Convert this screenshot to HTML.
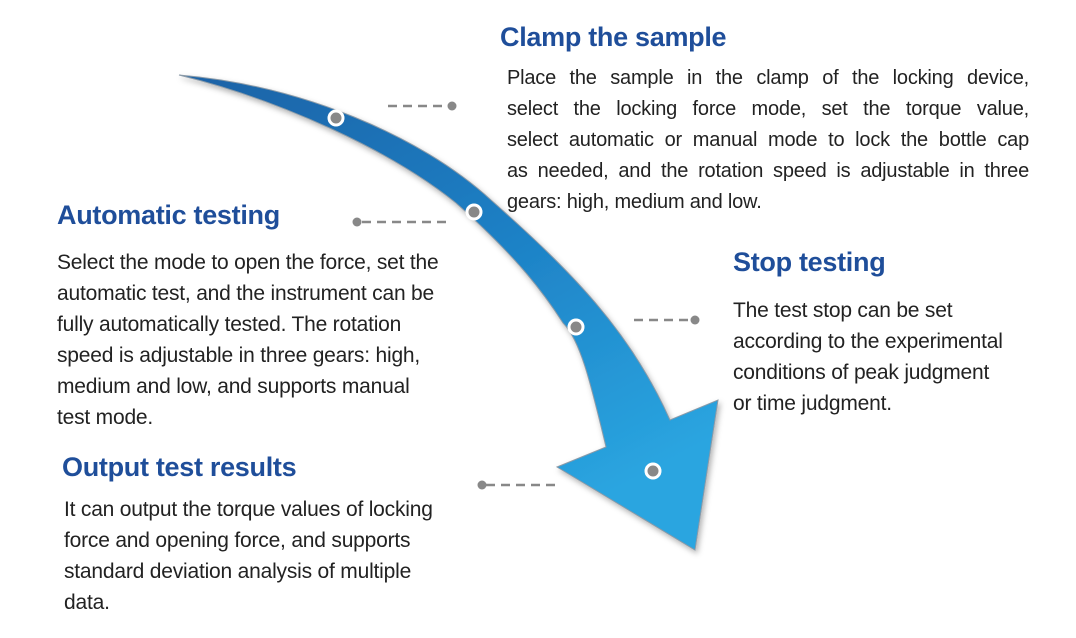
<!DOCTYPE html>
<html><head><meta charset="utf-8"><style>
body{margin:0;width:1076px;height:638px;background:#fff;position:relative;overflow:hidden;font-family:"Liberation Sans",sans-serif;}
.h{position:absolute;color:#1f4e9a;font-weight:bold;font-size:27px;white-space:nowrap;line-height:30px;letter-spacing:-0.3px}
.t{position:absolute;color:#222;font-size:21px;line-height:31px;white-space:nowrap;letter-spacing:-0.2px}
.j{font-size:20px}
.j div{text-align:justify;text-align-last:justify}
.j div.l{text-align-last:left}
</style></head><body>
<svg width="1076" height="638" style="position:absolute;left:0;top:0">
<defs>
<linearGradient id="g" x1="0" y1="0" x2="0.6" y2="1">
<stop offset="0" stop-color="#1a62a6"/><stop offset="0.5" stop-color="#1d7fc4"/><stop offset="1" stop-color="#2aa5e0"/>
</linearGradient>
<filter id="s" x="-10%" y="-10%" width="130%" height="130%"><feDropShadow dx="2" dy="3" stdDeviation="3" flood-color="#000" flood-opacity="0.3"/></filter>
</defs>
<path d="M179,75 C300,85 420,135 491,200 C570,270 630,330 670,420 L718,400 L695,550 L557,467 L606,447 C590,380 580,340 563,323 C545,295 520,260 456,203 C390,150 280,100 179,75 Z" fill="url(#g)" stroke="#8a9aa8" stroke-width="1" filter="url(#s)"/>
<g fill="#888" stroke="#fff" stroke-width="3">
<circle cx="336" cy="118" r="7"/><circle cx="474" cy="212" r="7"/><circle cx="576" cy="327" r="7"/><circle cx="653" cy="471" r="7"/>
</g>
<g stroke="#888" stroke-width="2.5" stroke-dasharray="9,6" fill="none">
<line x1="388" y1="106" x2="448" y2="106"/><line x1="362" y1="222" x2="446" y2="222"/>
<line x1="634" y1="320" x2="692" y2="320"/><line x1="486" y1="485" x2="558" y2="485"/>
</g>
<g fill="#888"><circle cx="452" cy="106" r="4.5"/><circle cx="357" cy="222" r="4.5"/><circle cx="695" cy="320" r="4.5"/><circle cx="482" cy="485" r="4.5"/></g>
</svg>
<div class="h" style="left:500px;top:22px">Clamp the sample</div>
<div class="t j" style="left:507px;top:63px;width:522px">
<div>Place the sample in the clamp of the locking device,</div>
<div>select the locking force mode, set the torque value,</div>
<div>select automatic or manual mode to lock the bottle cap</div>
<div>as needed, and the rotation speed is adjustable in three</div>
<div class="l">gears: high, medium and low.</div></div>
<div class="h" style="left:57px;top:200px">Automatic testing</div>
<div class="t" style="left:57px;top:247px">Select the mode to open the force, set the<br>automatic test, and the instrument can be<br>fully automatically tested. The rotation<br>speed is adjustable in three gears: high,<br>medium and low, and supports manual<br>test mode.</div>
<div class="h" style="left:733px;top:247px">Stop testing</div>
<div class="t" style="left:733px;top:295px">The test stop can be set<br>according to the experimental<br>conditions of peak judgment<br>or time judgment.</div>
<div class="h" style="left:62px;top:452px">Output test results</div>
<div class="t" style="left:64px;top:494px">It can output the torque values of locking<br>force and opening force, and supports<br>standard deviation analysis of multiple<br>data.</div>
</body></html>
